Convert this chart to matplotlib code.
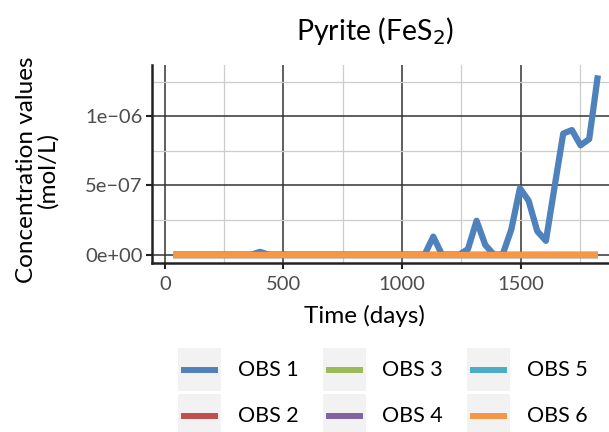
import matplotlib
matplotlib.use("Agg")
import matplotlib.pyplot as plt
from matplotlib.lines import Line2D
from matplotlib.patches import Rectangle
import numpy as np

plt.rcParams['font.family'] = ['Lato', 'DejaVu Sans']

# sampling times (days) and concentrations (mol/L)
days = [36.5 * k for k in range(1, 51)]
obs1 = [0] * 10 + [0.02e-6] + [0] * 19 + [
    0.13e-6, 0, 0, 0, 0.04e-6, 0.245e-6, 0.07e-6, 0, 0, 0.18e-6,
    0.48e-6, 0.39e-6, 0.17e-6, 0.10e-6, 0.49e-6, 0.875e-6, 0.90e-6, 0.79e-6, 0.835e-6, 1.295e-6]
obs2 = [0] * 50
obs3 = [0] * 50
obs4 = [0] * 50
obs5 = [0] * 50
obs6 = [0] * 50
series = [obs1, obs2, obs3, obs4, obs5, obs6]
labels = ["OBS 1", "OBS 2", "OBS 3", "OBS 4", "OBS 5", "OBS 6"]
colors = ["#4F81BD", "#C0504D", "#9BBB59", "#8064A2", "#4BACC6", "#F79646"]

W, H = 609, 432
fig = plt.figure(figsize=(W / 100, H / 100), dpi=100)
ax = fig.add_axes([152.3 / W, 1 - 263.3 / H, (619 - 152.3) / W, (263.3 - 65) / H])

for y, c in zip(series, colors):
    ax.plot(days, y, color=c, lw=4.5, solid_capstyle="butt", zorder=3)

ax.set_xlim(-52.5, 1914)
ax.set_ylim(-0.0625e-6, 1.37e-6)
ax.set_xticks([0, 500, 1000, 1500])
ax.set_xticks([250, 750, 1250, 1750], minor=True)
ax.set_yticks([0, 5e-7, 1e-6])
ax.set_yticks([2.5e-7, 7.5e-7, 1.25e-6], minor=True)
ax.set_yticklabels(["0e+00", "5e\u221207", "1e\u221206"])
ax.grid(which="major", color="#333333", lw=1.1, zorder=1)
ax.grid(which="minor", color="#CCCCCC", lw=0.9, zorder=1)
ax.tick_params(which="major", length=4, width=1.5, color="#222222",
               labelsize=14.5, labelcolor="#4D4D4D", pad=3)
ax.tick_params(axis="x", pad=5)
ax.tick_params(which="minor", length=0)
for s in ["top", "right"]:
    ax.spines[s].set_visible(False)
for s in ["left", "bottom"]:
    ax.spines[s].set_linewidth(1.8)
    ax.spines[s].set_color("#222222")

fig.text(375 / W, 1 - 31 / H, "Pyrite (FeS$_2$)", ha="center", va="center", fontsize=20.5)
fig.text(364 / W, 1 - 316 / H, "Time (days)", ha="center", va="center", fontsize=17.5)
fig.text(37 / W, 1 - 170 / H, "Concentration values\n(mol/L)", ha="center", va="center",
         rotation=90, fontsize=17.5, linespacing=1.0)

# legend: 3 columns x 2 rows, grey key boxes
col_x = [178, 322.7, 467.3]
row_y = [348.3, 394]
for i, (lab, c) in enumerate(zip(labels, colors)):
    x0 = col_x[i // 2]
    y0 = row_y[i % 2]
    fig.patches.append(Rectangle((x0 / W, 1 - (y0 + 43) / H), 43 / W, 43 / H,
                                 transform=fig.transFigure, facecolor="#F2F2F2", edgecolor="none"))
    yc = 1 - (y0 + 21.5) / H
    fig.lines.append(Line2D([(x0 + 3) / W, (x0 + 40) / W], [yc, yc], transform=fig.transFigure,
                            color=c, lw=4.3, solid_capstyle="butt"))
    fig.text((x0 + 59.7) / W, yc, lab, ha="left", va="center", fontsize=15.5)

fig.savefig("out.png", dpi=100)
